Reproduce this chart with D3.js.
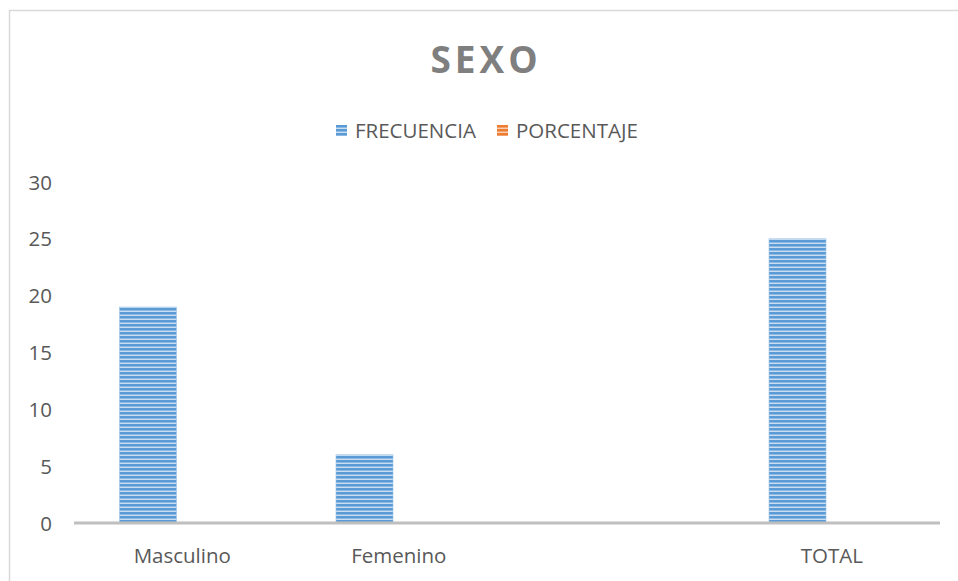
<!DOCTYPE html>
<html><head><meta charset="utf-8">
<script src="https://cdn.jsdelivr.net/npm/d3@7"></script>
<style>body{margin:0;background:#fff}svg{display:block}text{font-family:"Open Sans",sans-serif}</style>
</head><body>
<svg id="c" width="958" height="581"></svg>
<script>
const categories = ["Masculino", "Femenino", "", "TOTAL"];
const series = ["FRECUENCIA", "PORCENTAJE"];
const frecuencia = [19, 6, null, 25];
const porcentaje = [0, 0, null, 0];
const yTicks = [0, 5, 10, 15, 20, 25, 30];

(function () {
const svg = d3.select("#c");
const defs = svg.append("defs");
function pattern(id, dark, mid, light) {
  const p = defs.append("pattern").attr("id", id).attr("patternUnits", "userSpaceOnUse")
    .attr("width", 8).attr("height", 4);
  p.append("rect").attr("width", 8).attr("height", 4).attr("fill", mid);
  p.append("rect").attr("y", 0).attr("width", 8).attr("height", 2).attr("fill", dark);
  p.append("rect").attr("y", 3).attr("width", 8).attr("height", 1).attr("fill", light);
}
pattern("pFRECUENCIA", "#5b9bd5", "#8cb8e2", "#c9def3");
pattern("pPORCENTAJE", "#ed7d31", "#f2a06d", "#f8cfb3");

// frame
svg.append("path").attr("d", "M9.5,581 V10.5 H958").attr("fill", "none").attr("stroke", "#d9d9d9").attr("stroke-width", 1.5);

const pLeft = 74, pRight = 940, pTop = 182, pBottom = 523;
const x0 = d3.scaleBand().domain(d3.range(categories.length)).range([pLeft, pRight]).padding(0);
const bw = x0.bandwidth();
const x1 = d3.scaleBand().domain(series).range([bw * 45.5 / 216.5, bw * 159.5 / 216.5]).padding(0);
const y = d3.scaleLinear().domain([0, 30]).range([pBottom, pTop]);

// title
svg.append("text").attr("x", 486).attr("y", 73).attr("text-anchor", "middle")
  .attr("font-size", 37).attr("font-weight", 700).attr("letter-spacing", 4)
  .attr("fill", "#7f7f7f").text("SEXO");

// legend
const legendX = [336, 497];
series.forEach((s, i) => {
  const g = svg.append("g").attr("transform", `translate(${legendX[i]},125)`);
  g.append("rect").attr("width", 11).attr("height", 11).attr("fill", `url(#p${s})`);
  g.append("text").attr("x", 19).attr("y", 13).attr("font-size", 20.5).attr("fill", "#595959").text(s);
});

// y tick labels
svg.append("g").selectAll("text").data(yTicks).join("text")
  .attr("x", 52).attr("y", d => y(d) + 7.5).attr("text-anchor", "end")
  .attr("font-size", 20.5).attr("fill", "#595959").text(d => d);

// bars
const data = [frecuencia, porcentaje];
series.forEach((s, si) => {
  svg.append("g").selectAll("rect").data(data[si].map((v, i) => ({v, i})).filter(d => d.v != null && d.v > 0))
    .join("rect")
    .attr("x", d => x0(d.i) + x1(s)).attr("width", x1.bandwidth())
    .attr("y", d => y(d.v)).attr("height", d => y(0) - y(d.v))
    .attr("fill", `url(#p${s})`).attr("stroke", "#9cc3e8").attr("stroke-width", 0.6);
});

// x axis line
svg.append("line").attr("x1", pLeft).attr("x2", pRight).attr("y1", y(0)).attr("y2", y(0))
  .attr("stroke", "#bfbfbf").attr("stroke-width", 3);

// category labels
svg.append("g").selectAll("text").data(categories).join("text")
  .attr("x", (d, i) => x0(i) + bw / 2).attr("y", 563).attr("text-anchor", "middle")
  .attr("font-size", 20.5).attr("fill", "#595959").text(d => d);
})();
</script>
</body></html>
